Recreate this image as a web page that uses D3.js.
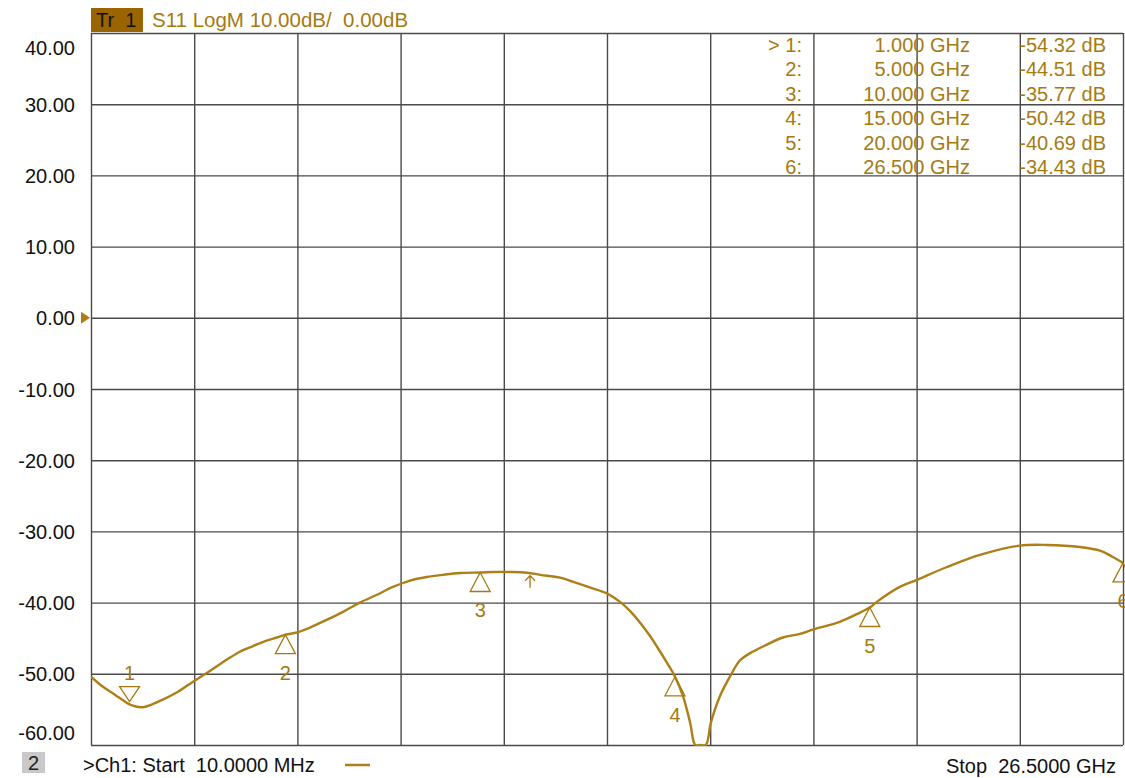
<!DOCTYPE html>
<html>
<head>
<meta charset="utf-8">
<script src="https://cdn.jsdelivr.net/npm/d3@7"></script>
<style>
  body { margin: 0; background: #fff; }
  svg text { font-family: "Liberation Sans", Arial, sans-serif; white-space: pre; }
</style>
</head>
<body>
<div id="chart"></div>
<script>
// trace data (GHz / dB)
var freqs = [0.01, 0.24, 0.50, 0.75, 1.00, 1.32, 1.78, 2.22, 2.63, 3.06, 3.50, 3.83, 4.17, 4.48, 4.78, 5.00,
  5.30, 5.63, 6.07, 6.48, 6.91, 7.35, 7.76, 8.20, 8.63, 9.04, 9.48, 10.00, 10.33, 10.77, 11.20, 11.54,
  12.05, 12.39, 12.83, 13.25, 13.59, 13.85, 14.10, 14.36, 14.54, 14.80, 15.00, 15.21, 15.39, 15.52,
  15.64, 15.79, 15.92, 16.15, 16.41, 16.67, 16.93, 17.36, 17.77, 18.21, 18.54, 19.23, 19.75, 20.00,
  20.18, 20.77, 21.21, 21.98, 22.83, 23.85, 24.55, 25.40, 25.91, 26.24, 26.50];
var s11 = [-50.4, -51.5, -52.5, -53.4, -54.3, -54.7, -53.8, -52.6, -51.1, -49.6, -48.0, -46.9, -46.1, -45.4, -44.9, -44.5,
  -44.2, -43.5, -42.4, -41.3, -40.0, -38.9, -37.8, -36.9, -36.4, -36.1, -35.85, -35.77, -35.7, -35.7, -35.8, -36.1,
  -36.5, -37.1, -37.9, -38.7, -39.9, -41.2, -42.8, -44.7, -46.2, -48.5, -50.4, -53.2, -56.9, -60.0,
  -66.0, -61.0, -56.9, -53.2, -50.4, -48.1, -47.1, -45.9, -44.9, -44.4, -43.8, -42.7, -41.4, -40.7,
  -39.9, -37.8, -36.8, -35.0, -33.3, -32.0, -31.9, -32.2, -32.7, -33.6, -34.43];

var markerFreqs = [1.0, 5.0, 10.0, 15.0, 20.0, 26.5];
var markerVals = [-54.32, -44.51, -35.77, -50.42, -40.69, -34.43];
var markerNames = ["1", "2", "3", "4", "5", "6"];

var yTicks = [40, 30, 20, 10, 0, -10, -20, -30, -40, -50, -60];
var xDivs = [0, 1, 2, 3, 4, 5, 6, 7, 8, 9, 10];

var startLabel = ">Ch1: Start  10.0000 MHz";
var stopLabel = "Stop  26.5000 GHz";
var headerLabel = "S11 LogM 10.00dB/  0.00dB";
var arrowFreq = 11.28;

var W = 1125, H = 778;
var plotL = 91, plotR = 1123, plotT = 33, plotB = 745;
var traceColor = "#ad7f17", textColor = "#a57a12", gridColor = "#4a4a4a";

var loc = d3.formatLocale({decimal: ".", thousands: ",", grouping: [3], currency: ["", ""], minus: "-"});
var f2 = loc.format(".2f"), f3 = loc.format(".3f");

var svg = d3.select("#chart").append("svg")
  .attr("width", W).attr("height", H);
svg.append("rect").attr("width", W).attr("height", H).attr("fill", "#fff");

var x = d3.scaleLinear().domain([0.01, 26.5]).range([plotL, plotR]);
var xDiv = d3.scaleLinear().domain([0, 10]).range([plotL, plotR]);
var y = d3.scaleLinear().domain([-60, 40]).range([plotB, plotT]);

// grid from axes
var gx = svg.append("g").attr("transform", "translate(0," + plotB + ")")
  .call(d3.axisBottom(xDiv).tickValues(xDivs).tickSize(-(plotB - plotT)).tickFormat(""));
gx.select(".domain").remove();
gx.selectAll("line").attr("stroke", gridColor).attr("stroke-width", 1.4);

var gy = svg.append("g").attr("transform", "translate(" + plotL + ",0)")
  .call(d3.axisLeft(y).tickValues(yTicks).tickSize(-(plotR - plotL)).tickPadding(16).tickFormat(f2));
gy.select(".domain").remove();
gy.selectAll("line").attr("stroke", gridColor).attr("stroke-width", 1.4);
gy.selectAll("text")
  .attr("font-size", 20).attr("fill", "#111")
  .attr("font-family", "Liberation Sans, Arial, sans-serif")
  .attr("dy", function(d) { return d == 40 ? "1.05em" : (d == -60 ? "-0.3em" : "0.35em"); });

// reference level arrow
svg.append("path")
  .attr("d", "M" + (plotL - 10) + "," + (y(0) - 6) + "L" + (plotL - 1) + "," + y(0) + "L" + (plotL - 10) + "," + (y(0) + 6) + "Z")
  .attr("fill", "#b07a10");

// trace
svg.append("clipPath").attr("id", "clip").append("rect")
  .attr("x", plotL).attr("y", plotT).attr("width", plotR - plotL).attr("height", plotB - plotT + 1);

var pts = freqs.map(function(f, i) { return [f, s11[i]]; });
var line = d3.line()
  .x(function(d) { return x(d[0]); })
  .y(function(d) { return y(Math.max(d[1], -60)); })
  .curve(d3.curveCatmullRom.alpha(0.5));

svg.append("path")
  .datum(pts)
  .attr("clip-path", "url(#clip)")
  .attr("d", line)
  .attr("fill", "none")
  .attr("stroke", traceColor)
  .attr("stroke-width", 2.4)
  .attr("stroke-linejoin", "round");

// markers
var mk = svg.append("g");
markerFreqs.forEach(function(f, i) {
  var cx = x(f), py = y(markerVals[i]);
  if (i == 0) {
    mk.append("path")
      .attr("d", "M" + (cx - 10) + "," + (py - 18) + "L" + (cx + 10) + "," + (py - 18) + "L" + cx + "," + (py - 3) + "Z")
      .attr("fill", "none").attr("stroke", textColor).attr("stroke-width", 1.3);
    mk.append("text").attr("x", cx).attr("y", py - 32).attr("dy", "0.35em")
      .attr("text-anchor", "middle").attr("font-size", 20).attr("fill", textColor).text(markerNames[i]);
  } else {
    mk.append("path")
      .attr("d", "M" + cx + "," + py + "L" + (cx + 10) + "," + (py + 19) + "L" + (cx - 10) + "," + (py + 19) + "Z")
      .attr("fill", "none").attr("stroke", textColor).attr("stroke-width", 1.3);
    mk.append("text").attr("x", cx).attr("y", py + 38).attr("dy", "0.35em")
      .attr("text-anchor", "middle").attr("font-size", 20).attr("fill", textColor).text(markerNames[i]);
  }
});

// little arrow on the trace
var ax = x(arrowFreq), ay = y(-35.8);
svg.append("path")
  .attr("d", "M" + ax + "," + (ay + 3) + "L" + ax + "," + (ay + 15) + "M" + (ax - 5) + "," + (ay + 8) + "L" + ax + "," + (ay + 3) + "L" + (ax + 5) + "," + (ay + 8))
  .attr("fill", "none").attr("stroke", textColor).attr("stroke-width", 1.3);

// marker table
var table = svg.append("g").attr("font-size", 20).attr("fill", textColor);
markerFreqs.forEach(function(f, i) {
  var ry = 45 + i * 24.4;
  table.append("text").attr("x", 802).attr("y", ry).attr("dy", "0.35em").attr("text-anchor", "end")
    .text((i == 0 ? "> " : "") + markerNames[i] + ":");
  table.append("text").attr("x", 970).attr("y", ry).attr("dy", "0.35em").attr("text-anchor", "end")
    .text(f3(f) + " GHz");
  table.append("text").attr("x", 1106).attr("y", ry).attr("dy", "0.35em").attr("text-anchor", "end")
    .text(f2(markerVals[i]) + " dB");
});

// header
svg.append("rect").attr("x", 91).attr("y", 8).attr("width", 52).attr("height", 24).attr("fill", "#9a6500");
svg.append("text").attr("x", 96).attr("y", 20).attr("dy", "0.35em").attr("font-size", 20).attr("fill", "#111").text("Tr  1");
svg.append("text").attr("x", 152).attr("y", 20).attr("dy", "0.35em").attr("font-size", 20.5).attr("fill", textColor).text(headerLabel);

// footer
svg.append("rect").attr("x", 22).attr("y", 752).attr("width", 23).attr("height", 21).attr("fill", "#c9c9c9");
svg.append("text").attr("x", 33.5).attr("y", 763).attr("dy", "0.35em").attr("text-anchor", "middle")
  .attr("font-size", 20).attr("fill", "#222").text("2");
svg.append("text").attr("x", 83).attr("y", 765).attr("dy", "0.35em").attr("font-size", 20).attr("fill", "#111").text(startLabel);
svg.append("line").attr("x1", 345).attr("x2", 370).attr("y1", 765).attr("y2", 765)
  .attr("stroke", traceColor).attr("stroke-width", 2.5);
svg.append("text").attr("x", 1116).attr("y", 766).attr("dy", "0.35em").attr("text-anchor", "end")
  .attr("font-size", 20).attr("fill", "#111").text(stopLabel);
</script>
</body>
</html>
